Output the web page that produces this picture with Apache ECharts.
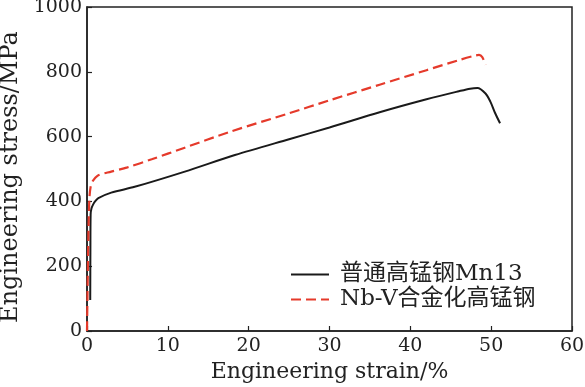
<!DOCTYPE html>
<html>
<head>
<meta charset="utf-8">
<script src="https://cdn.jsdelivr.net/npm/echarts@6/dist/echarts.min.js"></script>
<style>html,body{margin:0;padding:0;background:#fff}#c{width:585px;height:387px}</style>
</head>
<body>
<div id="c"></div>
<script>
// Data
const seriesNames = ['普通高锰钢Mn13', 'Nb-V合金化高锰钢'];
const mn13Strain = [0.40, 0.42, 0.45, 0.55, 0.75, 1.0, 1.4, 3.0, 5.9, 12.1, 18.3, 25, 30, 36.2, 42, 46, 47.4, 48.3, 49.3, 49.9, 50.5, 51.1];
const mn13Stress = [96, 250, 360, 378, 390, 400, 410, 427, 445, 492, 543, 592, 628, 675, 715, 740, 748, 750, 733, 708, 672, 641];
const nbvStrain = [0, 0.1, 0.2, 0.3, 0.45, 0.7, 1.0, 1.4, 3.0, 5.0, 8.0, 12.0, 17.7, 25, 30, 36.2, 42, 46, 48.0, 48.5, 48.9, 49.3];
const nbvStress = [0, 180, 330, 410, 445, 462, 472, 481, 492, 505, 530, 565, 615, 672, 712, 760, 805, 836, 850, 852, 845, 821];
const xTicks = [0, 10, 20, 30, 40, 50, 60];
const yTicks = [0, 200, 400, 600, 800, 1000];

const serif = '"DejaVu Serif", "Noto Sans CJK SC", serif';
const pair = (xs, ys) => xs.map((x, i) => [x, ys[i]]);

const chart = echarts.init(document.getElementById('c'), null, {renderer: 'canvas'});
chart.setOption({
  backgroundColor: '#fff',
  animation: false,
  grid: {left: 87, right: 13, top: 7, bottom: 56, containLabel: false, outerBoundsMode: 'none',
         show: true, borderColor: '#222', borderWidth: 1.5, backgroundColor: 'transparent'},
  legend: {
    left: 285, top: 258, orient: 'vertical', itemGap: 2,
    itemWidth: 38, itemHeight: 14,
    itemStyle: {opacity: 0},
    textStyle: {fontFamily: serif, fontSize: 23, color: '#222', padding: [0, 0, 0, 6]},
    data: seriesNames
  },
  xAxis: {
    type: 'value', min: xTicks[0], max: xTicks[xTicks.length - 1], interval: 10,
    name: 'Engineering strain/%', nameLocation: 'middle', nameGap: 30,
    nameTextStyle: {fontFamily: serif, fontSize: 22, color: '#222'},
    axisLine: {lineStyle: {color: '#222', width: 1.5}},
    axisTick: {inside: true, length: 5, lineStyle: {color: '#222', width: 1.2}},
    axisLabel: {fontFamily: serif, fontSize: 19, color: '#222', margin: 6, formatter: v => String(v)},
    splitLine: {show: false}
  },
  yAxis: {
    type: 'value', min: yTicks[0], max: yTicks[yTicks.length - 1], interval: 200,
    name: 'Engineering stress/MPa', nameLocation: 'middle', nameGap: 60,
    nameTextStyle: {fontFamily: serif, fontSize: 24, color: '#222', padding: [0, 16, 0, 0]},
    axisLine: {lineStyle: {color: '#222', width: 1.5}},
    axisTick: {inside: true, length: 5, lineStyle: {color: '#222', width: 1.2}},
    axisLabel: {fontFamily: serif, fontSize: 19, color: '#222', margin: 5, formatter: v => String(v)},
    splitLine: {show: false}
  },
  series: [
    {
      name: seriesNames[0], type: 'line', data: pair(mn13Strain, mn13Stress),
      symbol: 'none', smooth: 0.3,
      lineStyle: {color: '#1a1a1a', width: 2}, itemStyle: {color: '#1a1a1a'}
    },
    {
      name: seriesNames[1], type: 'line', data: pair(nbvStrain, nbvStress),
      symbol: 'none', smooth: 0.3,
      lineStyle: {color: '#e53a2b', width: 2.2, type: [10, 5]}, itemStyle: {color: '#e53a2b'}
    }
  ]
});
</script>
</body>
</html>
